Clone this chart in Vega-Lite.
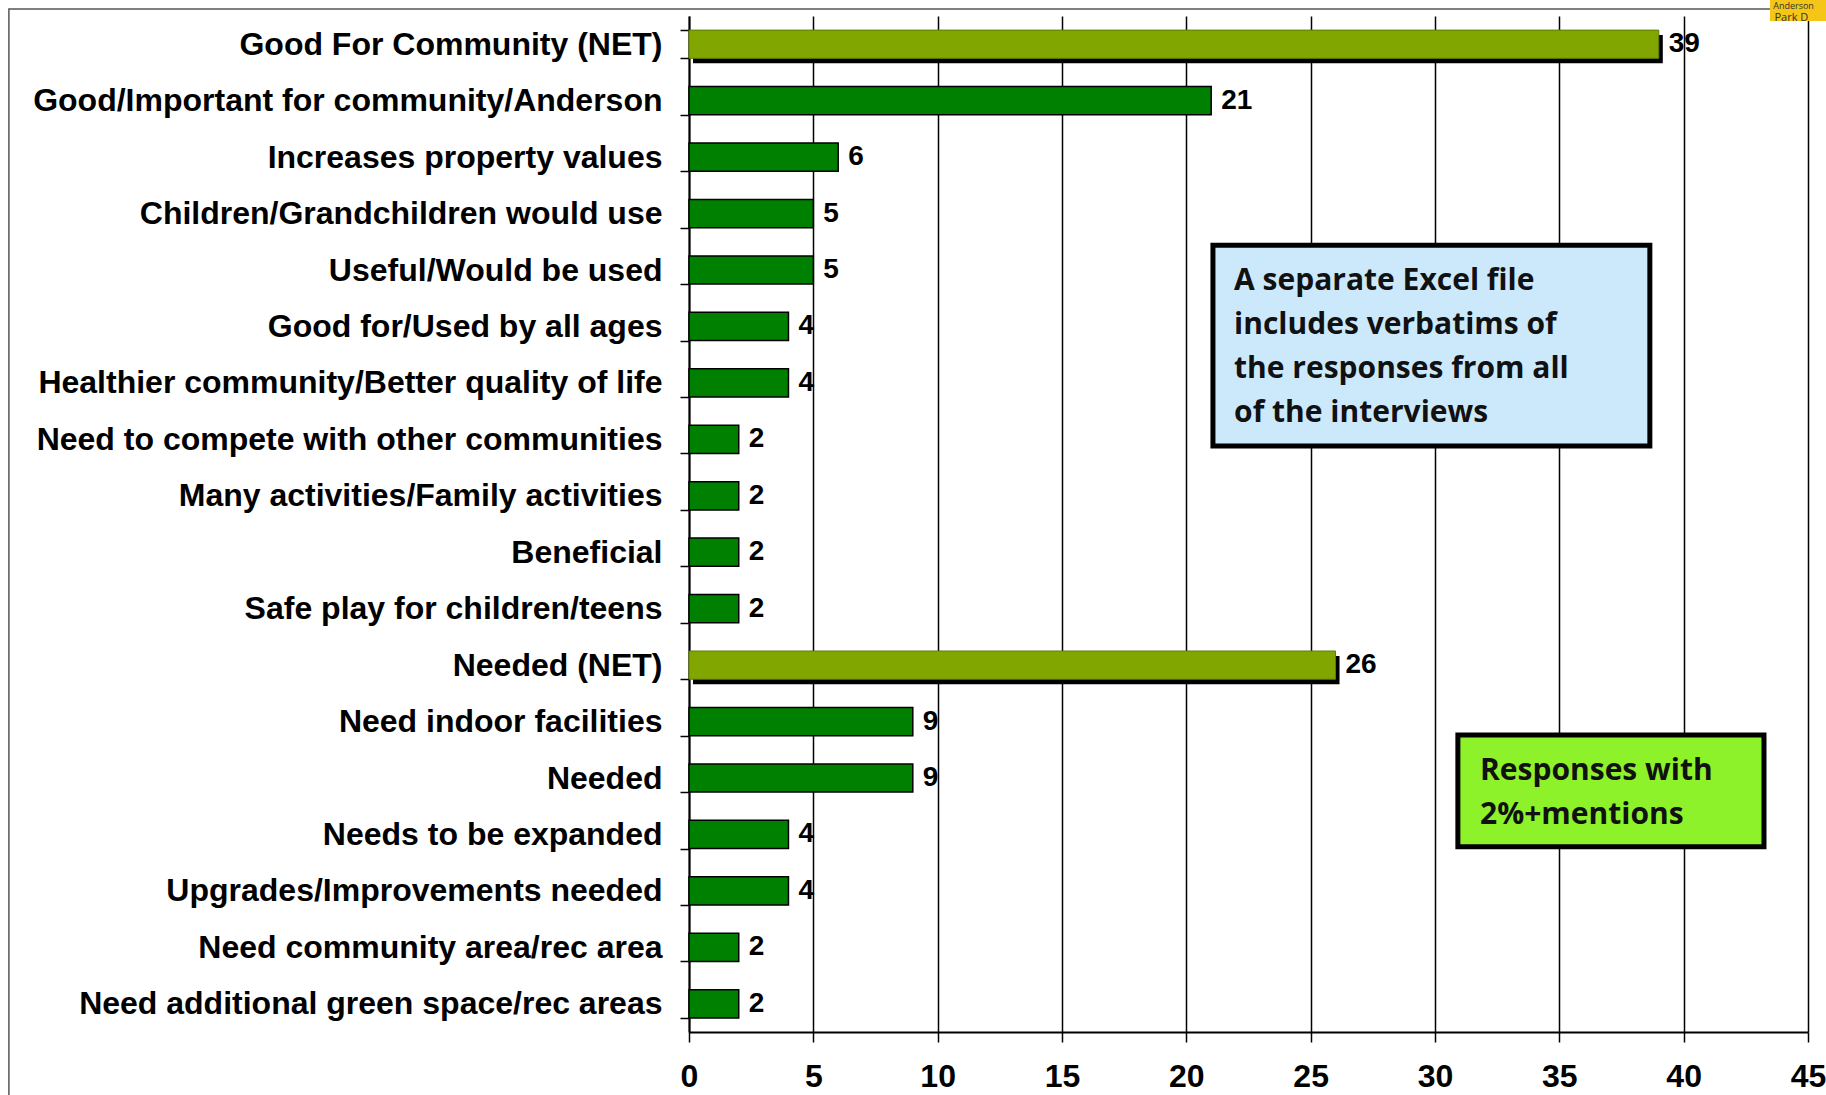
{
  "$schema": "https://vega.github.io/schema/vega-lite/v6.json",
  "width": 1119,
  "height": 1016,
  "autosize": {"type": "none"},
  "padding": {"left": 689, "top": 16, "right": 18, "bottom": 63},
  "background": "white",
  "config": {
    "view": {"stroke": null},
    "axisX": {
      "domainColor": "black", "domainWidth": 2,
      "grid": true, "gridColor": "black", "gridWidth": 1.5, "gridOpacity": 1,
      "tickColor": "black", "tickSize": 10, "tickWidth": 1.5,
      "labelFont": "Liberation Sans",
      "labelFontSize": 32, "labelFontWeight": "bold", "labelColor": "black",
      "labelPadding": 19, "labelFlush": false, "labelOverlap": false
    },
    "axisY": {
      "domainColor": "black", "domainWidth": 2,
      "tickColor": "black", "tickSize": 9, "tickWidth": 1.5, "tickBand": "extent",
      "labelFont": "Liberation Sans", "labelFontSize": 32, "labelFontWeight": "bold",
      "labelColor": "black", "labelPadding": 18, "labelLimit": 700
    }
  },
  "datasets": {
    "bars": [
      {"label": "Good For Community (NET)", "value": 39, "kind": "net"},
      {"label": "Good/Important for community/Anderson", "value": 21, "kind": "item"},
      {"label": "Increases property values", "value": 6, "kind": "item"},
      {"label": "Children/Grandchildren would use", "value": 5, "kind": "item"},
      {"label": "Useful/Would be used", "value": 5, "kind": "item"},
      {"label": "Good for/Used by all ages", "value": 4, "kind": "item"},
      {"label": "Healthier community/Better quality of life", "value": 4, "kind": "item"},
      {"label": "Need to compete with other communities", "value": 2, "kind": "item"},
      {"label": "Many activities/Family activities", "value": 2, "kind": "item"},
      {"label": "Beneficial", "value": 2, "kind": "item"},
      {"label": "Safe play for children/teens", "value": 2, "kind": "item"},
      {"label": "Needed (NET)", "value": 26, "kind": "net"},
      {"label": "Need indoor facilities", "value": 9, "kind": "item"},
      {"label": "Needed", "value": 9, "kind": "item"},
      {"label": "Needs to be expanded", "value": 4, "kind": "item"},
      {"label": "Upgrades/Improvements needed", "value": 4, "kind": "item"},
      {"label": "Need community area/rec area", "value": 2, "kind": "item"},
      {"label": "Need additional green space/rec areas", "value": 2, "kind": "item"}
    ],
    "boxes": [
      {"name": "note", "x": 21.07, "x2": 38.64, "y": 4.06, "y2": 7.62},
      {"name": "mentions", "x": 30.92, "x2": 43.23, "y": 12.74, "y2": 14.72}
    ],
    "texts": [
      {"text": "A separate Excel file", "x": 21.92, "y": 4.70},
      {"text": "includes verbatims of", "x": 21.92, "y": 5.48},
      {"text": "the responses from all", "x": 21.92, "y": 6.26},
      {"text": "of the interviews", "x": 21.92, "y": 7.03},
      {"text": "Responses with", "x": 31.81, "y": 13.38},
      {"text": "2%+mentions", "x": 31.81, "y": 14.16}
    ],
    "frame": [{"x": -27.35, "x2": 50, "y": -0.124, "y2": 20}],
    "logo": [{"x": 43.47, "x2": 46, "y": -0.3, "y2": 0.09}],
    "logotext": [
      {"text": "Anderson", "x": 43.6, "y": -0.124, "size": "small"},
      {"text": "Park D", "x": 43.65, "y": 0.089, "size": "big"}
    ]
  },
  "resolve": {"scale": {"y": "independent"}},
  "layer": [
    {
      "data": {"name": "bars"},
      "encoding": {
        "y": {"field": "label", "type": "nominal", "title": null,
              "sort": ["Good For Community (NET)", "Good/Important for community/Anderson", "Increases property values", "Children/Grandchildren would use", "Useful/Would be used", "Good for/Used by all ages", "Healthier community/Better quality of life", "Need to compete with other communities", "Many activities/Family activities", "Beneficial", "Safe play for children/teens", "Needed (NET)", "Need indoor facilities", "Needed", "Needs to be expanded", "Upgrades/Improvements needed", "Need community area/rec area", "Need additional green space/rec areas"],
              "scale": {"paddingInner": 0.5, "paddingOuter": 0.25}},
        "x": {"field": "value", "type": "quantitative", "title": null,
              "axis": {"values": [0, 5, 10, 15, 20, 25, 30, 35, 40, 45]},
              "scale": {"domain": [0, 45], "nice": false}}
      },
      "layer": [
        {
          "transform": [{"filter": "datum.kind === 'net'"}],
          "mark": {"type": "bar", "color": "black", "xOffset": 4, "yOffset": 5}
        },
        {
          "transform": [{"filter": "datum.kind === 'net'"}],
          "mark": {"type": "bar", "fill": "#82a600", "stroke": "#5f7d00", "strokeWidth": 1}
        },
        {
          "transform": [{"filter": "datum.kind === 'item'"}],
          "mark": {"type": "bar", "fill": "#008000", "stroke": "black", "strokeWidth": 1.5}
        },
        {
          "mark": {"type": "text", "align": "left", "baseline": "middle", "dx": 10,
                   "font": "Liberation Sans", "fontSize": 28, "fontWeight": "bold", "color": "black"},
          "encoding": {"text": {"field": "value", "type": "quantitative"}}
        }
      ]
    },
    {
      "encoding": {
        "x": {"field": "x", "type": "quantitative", "title": null,
              "axis": {"values": [0, 5, 10, 15, 20, 25, 30, 35, 40, 45]}},
        "y": {"field": "y", "type": "quantitative", "axis": null,
              "scale": {"domain": [0, 18], "reverse": true, "nice": false, "zero": false}}
      },
      "layer": [
        {
          "data": {"name": "frame"},
          "mark": {"type": "rect", "filled": false, "stroke": "#555555", "strokeWidth": 1.5},
          "encoding": {"x2": {"field": "x2"}, "y2": {"field": "y2"}}
        },
        {
          "data": {"name": "boxes"},
          "mark": {"type": "rect", "stroke": "black", "strokeWidth": 5},
          "encoding": {
            "x2": {"field": "x2"}, "y2": {"field": "y2"},
            "fill": {"field": "name", "type": "nominal", "legend": null,
                     "scale": {"domain": ["note", "mentions"], "range": ["#cce9fc", "#8ef22b"]}}
          }
        },
        {
          "data": {"name": "texts"},
          "mark": {"type": "text", "align": "left", "baseline": "middle",
                   "font": "Open Sans", "fontSize": 30, "fontWeight": "bold", "color": "#111111"},
          "encoding": {"text": {"field": "text"}}
        },
        {
          "data": {"name": "logo"},
          "mark": {"type": "rect", "color": "#f5c518"},
          "encoding": {"x2": {"field": "x2"}, "y2": {"field": "y2"}}
        },
        {
          "data": {"name": "logotext"},
          "mark": {"type": "text", "align": "left", "baseline": "alphabetic",
                   "font": "Open Sans", "color": "#333333"},
          "encoding": {
            "text": {"field": "text"},
            "size": {"field": "size", "type": "nominal", "legend": null,
                     "scale": {"domain": ["small", "big"], "range": [9, 11]}}
          }
        }
      ]
    }
  ]
}
